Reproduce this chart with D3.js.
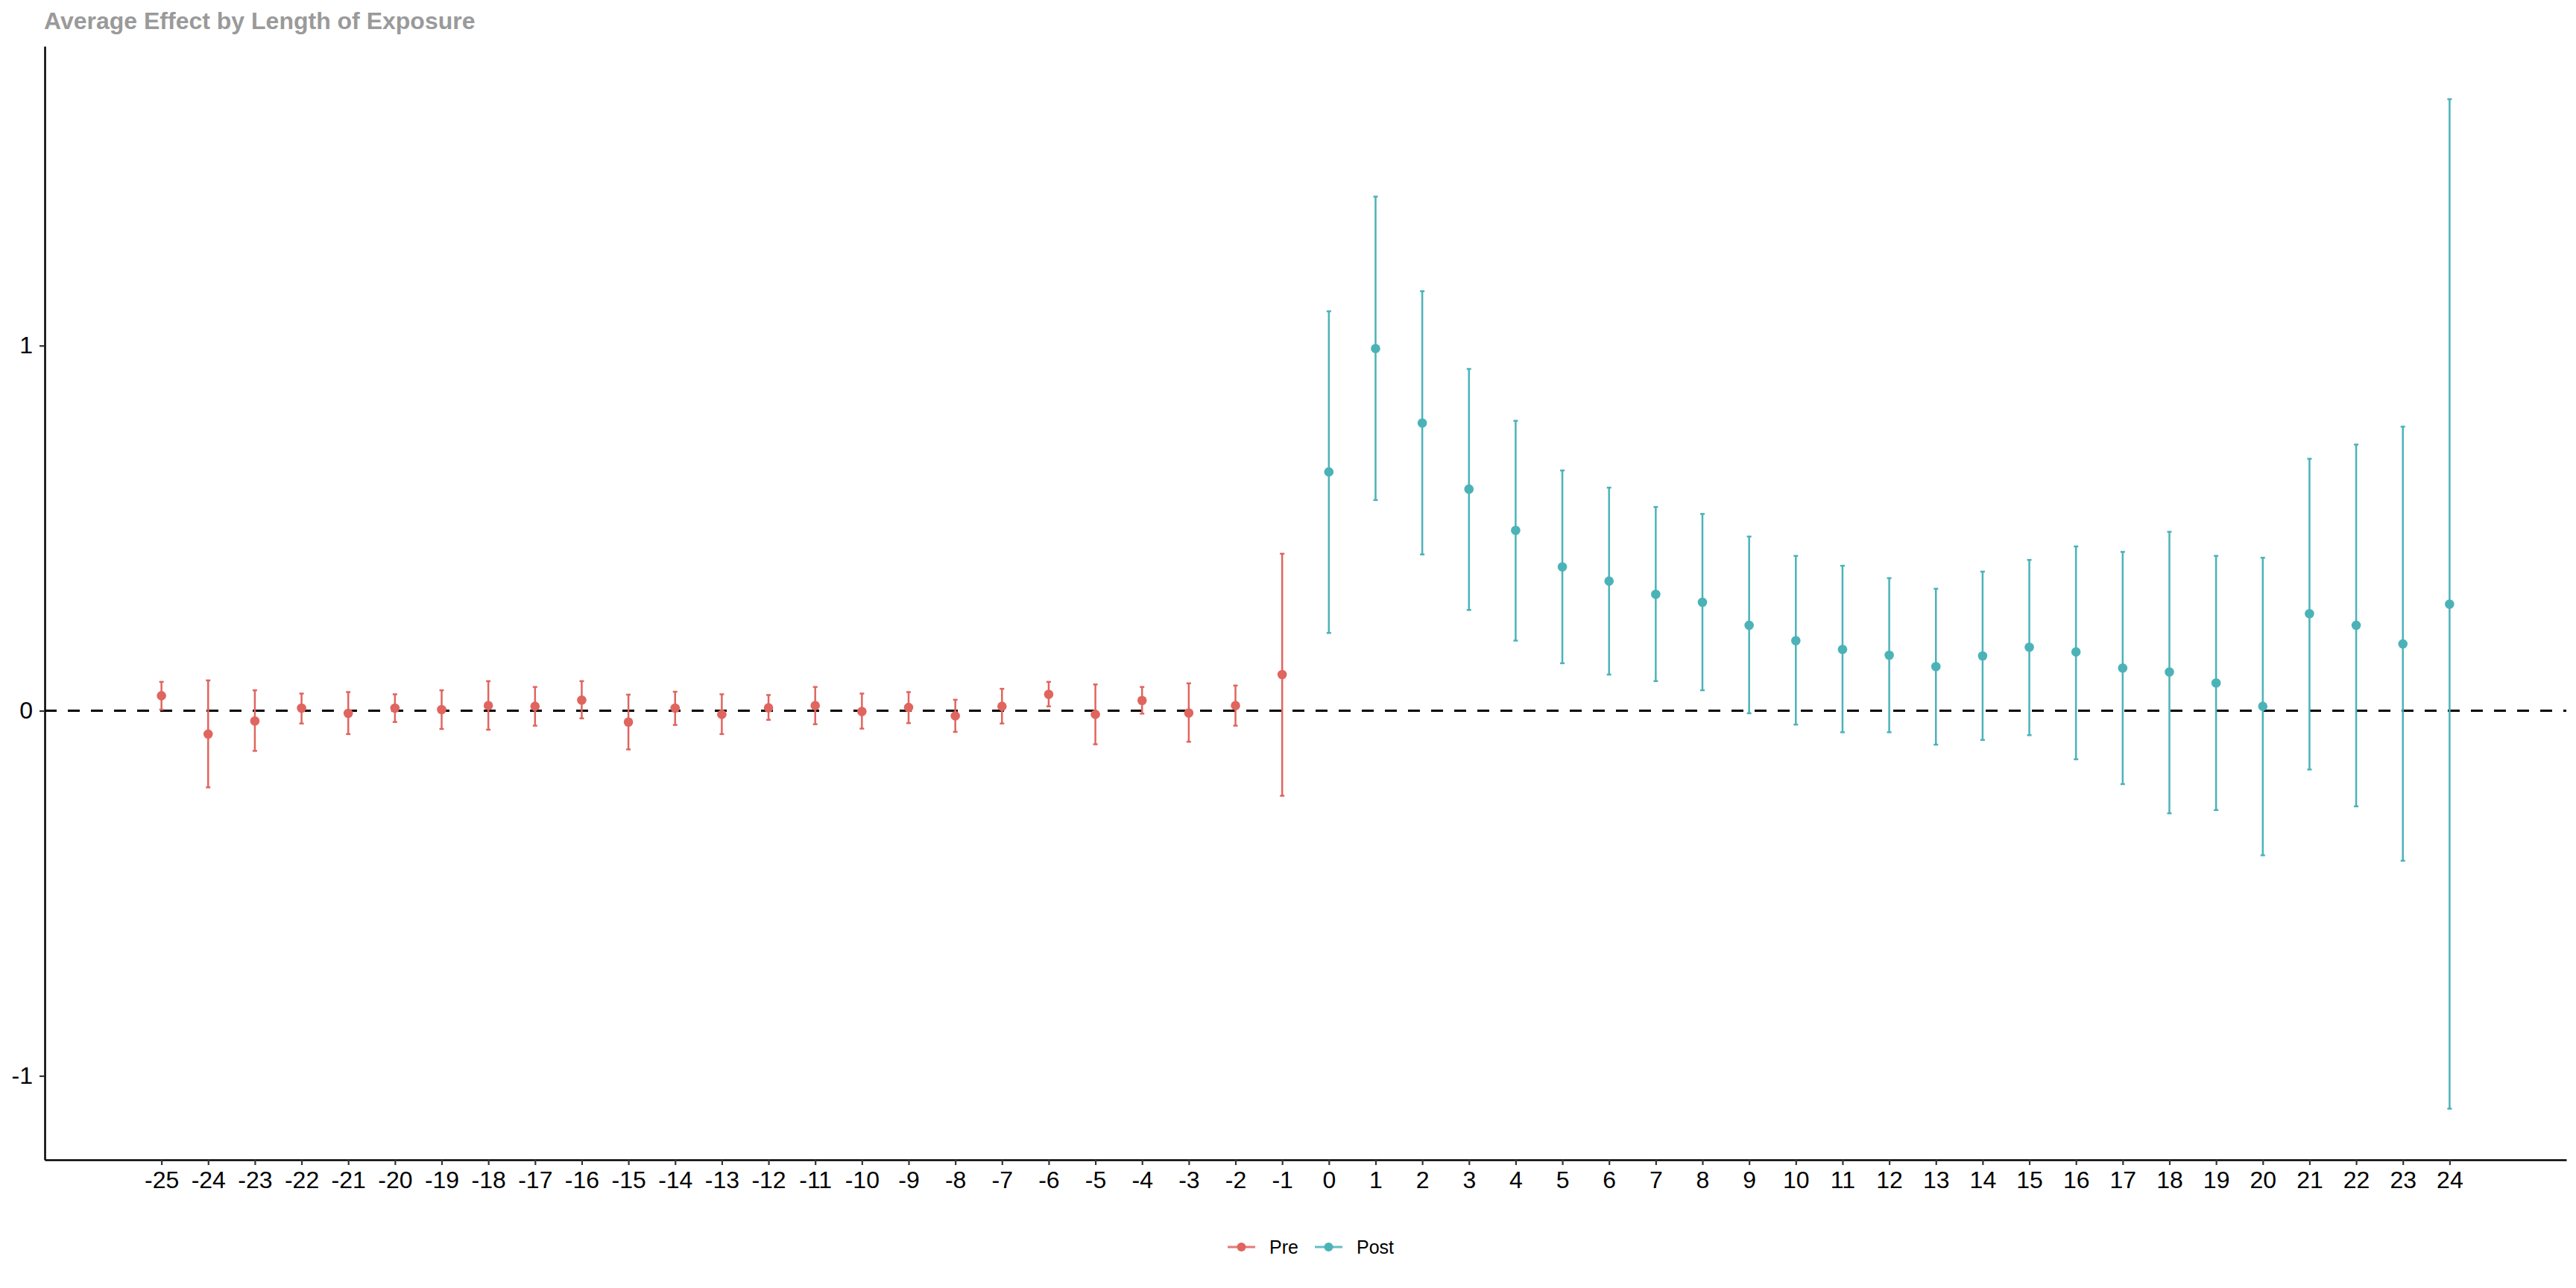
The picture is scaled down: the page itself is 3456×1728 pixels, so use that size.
<!DOCTYPE html>
<html>
<head>
<meta charset="utf-8">
<script src="https://cdn.jsdelivr.net/npm/d3@7"></script>
<style>
  body { margin: 0; background: #fff; }
  text { font-family: "Liberation Sans", Arial, Helvetica, sans-serif; }
</style>
</head>
<body>
<script>
// periods relative to exposure
const prePeriods = d3.range(-25, 0)
const postPeriods = d3.range(0, 25)

// estimate, lower, upper
const preEst = [0.041, -0.064, -0.028, 0.007, -0.007, 0.007, 0.003, 0.014, 0.012, 0.029,
  -0.031, 0.007, -0.010, 0.008, 0.014, -0.002, 0.009, -0.014, 0.012, 0.045,
  -0.010, 0.028, -0.006, 0.014, 0.099]
const preLow = [0.003, -0.210, -0.110, -0.035, -0.064, -0.031, -0.050, -0.052, -0.041, -0.021,
  -0.106, -0.039, -0.064, -0.025, -0.037, -0.049, -0.034, -0.058, -0.035, 0.012,
  -0.092, -0.008, -0.085, -0.041, -0.233]
const preHigh = [0.079, 0.083, 0.056, 0.047, 0.051, 0.045, 0.056, 0.081, 0.065, 0.081,
  0.044, 0.052, 0.045, 0.043, 0.065, 0.047, 0.051, 0.030, 0.060, 0.079,
  0.072, 0.065, 0.075, 0.069, 0.430]

const postEst = [0.654, 0.992, 0.788, 0.607, 0.494, 0.394, 0.355, 0.319, 0.297, 0.234,
  0.192, 0.168, 0.152, 0.121, 0.150, 0.174, 0.161, 0.117, 0.106, 0.076,
  0.012, 0.266, 0.234, 0.183, 0.292]
const postLow = [0.213, 0.577, 0.428, 0.276, 0.192, 0.130, 0.099, 0.081, 0.056, -0.007,
  -0.038, -0.059, -0.059, -0.093, -0.080, -0.067, -0.133, -0.201, -0.281, -0.272,
  -0.396, -0.161, -0.262, -0.411, -1.090]
const postHigh = [1.094, 1.408, 1.149, 0.936, 0.794, 0.658, 0.611, 0.558, 0.539, 0.477,
  0.424, 0.397, 0.363, 0.334, 0.381, 0.413, 0.450, 0.435, 0.490, 0.424,
  0.419, 0.690, 0.729, 0.778, 1.675]

const groups = ['Pre', 'Post']
const colors = ['#e0655f', '#4bb3b8']
const yTicks = [-1, 0, 1]

const W = 3456, H = 1728
const margin = {top: 62, right: 13, bottom: 172, left: 60}

const data = []
prePeriods.forEach(function (p, i) {
  data.push({t: p, est: preEst[i], lo: preLow[i], hi: preHigh[i], g: 'Pre'})
})
postPeriods.forEach(function (p, i) {
  data.push({t: p, est: postEst[i], lo: postLow[i], hi: postHigh[i], g: 'Post'})
})

const color = d3.scaleOrdinal().domain(groups).range(colors)
// plain hyphen for negatives, like the original
const fmt = function (d) { return d < 0 ? '-' + Math.abs(d) : String(d) }

const x = d3.scaleLinear()
  .domain([-27.5, 26.5])
  .range([margin.left, W - margin.right])
const y = d3.scaleLinear()
  .domain([-1.23, 1.82])
  .range([H - margin.bottom, margin.top])

const svg = d3.select('body').append('svg')
  .attr('width', W)
  .attr('height', H)

svg.append('rect').attr('width', W).attr('height', H).attr('fill', '#fff')

// title
svg.append('text')
  .attr('x', 59)
  .attr('y', 39)
  .attr('font-size', 32)
  .attr('font-weight', 'bold')
  .attr('fill', '#9a9a9a')
  .text('Average Effect by Length of Exposure')

// zero reference line
svg.append('line')
  .attr('x1', margin.left).attr('x2', W - margin.right)
  .attr('y1', y(0)).attr('y2', y(0))
  .attr('stroke', '#000')
  .attr('stroke-width', 3)
  .attr('stroke-dasharray', '16,15')

// error bars
const bars = svg.append('g').selectAll('g')
  .data(data)
  .enter().append('g')
  .attr('stroke', function (d) { return color(d.g) })
  .attr('stroke-width', 2.5)

bars.append('line')
  .attr('x1', function (d) { return x(d.t) })
  .attr('x2', function (d) { return x(d.t) })
  .attr('y1', function (d) { return y(d.lo) })
  .attr('y2', function (d) { return y(d.hi) })
bars.append('line')
  .attr('x1', function (d) { return x(d.t) - 3 })
  .attr('x2', function (d) { return x(d.t) + 3 })
  .attr('y1', function (d) { return y(d.lo) })
  .attr('y2', function (d) { return y(d.lo) })
bars.append('line')
  .attr('x1', function (d) { return x(d.t) - 3 })
  .attr('x2', function (d) { return x(d.t) + 3 })
  .attr('y1', function (d) { return y(d.hi) })
  .attr('y2', function (d) { return y(d.hi) })

svg.append('g').selectAll('circle')
  .data(data)
  .enter().append('circle')
  .attr('cx', function (d) { return x(d.t) })
  .attr('cy', function (d) { return y(d.est) })
  .attr('r', 6.3)
  .attr('fill', function (d) { return color(d.g) })

// axes
const xAxis = d3.axisBottom(x)
  .tickValues(prePeriods.concat(postPeriods))
  .tickFormat(fmt)
  .tickSizeInner(7)
  .tickSizeOuter(0)
  .tickPadding(8)
const gx = svg.append('g')
  .attr('transform', 'translate(0,' + (H - margin.bottom) + ')')
  .call(xAxis)

const yAxis = d3.axisLeft(y)
  .tickValues(yTicks)
  .tickFormat(fmt)
  .tickSizeInner(7)
  .tickSizeOuter(0)
  .tickPadding(9)
const gy = svg.append('g')
  .attr('transform', 'translate(' + margin.left + ',0)')
  .call(yAxis)

;[gx, gy].forEach(function (g) {
  g.select('.domain').attr('stroke', '#000').attr('stroke-width', 2.5)
  g.selectAll('.tick line').attr('stroke', '#333').attr('stroke-width', 2.2)
  g.selectAll('.tick text')
    .attr('font-size', 32)
    .attr('fill', '#000')
    .style('font-family', '"Liberation Sans", Arial, sans-serif')
})

// legend
const legendX = [1647, 1764]
const legend = svg.append('g').selectAll('g')
  .data(groups)
  .enter().append('g')
  .attr('transform', function (d, i) { return 'translate(' + legendX[i] + ',1673)' })
legend.append('line')
  .attr('x1', 0).attr('x2', 37)
  .attr('stroke', function (d) { return color(d) })
  .attr('stroke-width', 3)
  .attr('opacity', 0.85)
legend.append('circle')
  .attr('cx', 18.5)
  .attr('r', 6)
  .attr('fill', function (d) { return color(d) })
legend.append('text')
  .attr('x', 56)
  .attr('dy', '0.36em')
  .attr('font-size', 25)
  .attr('fill', '#000')
  .text(function (d) { return d })
</script>
</body>
</html>
